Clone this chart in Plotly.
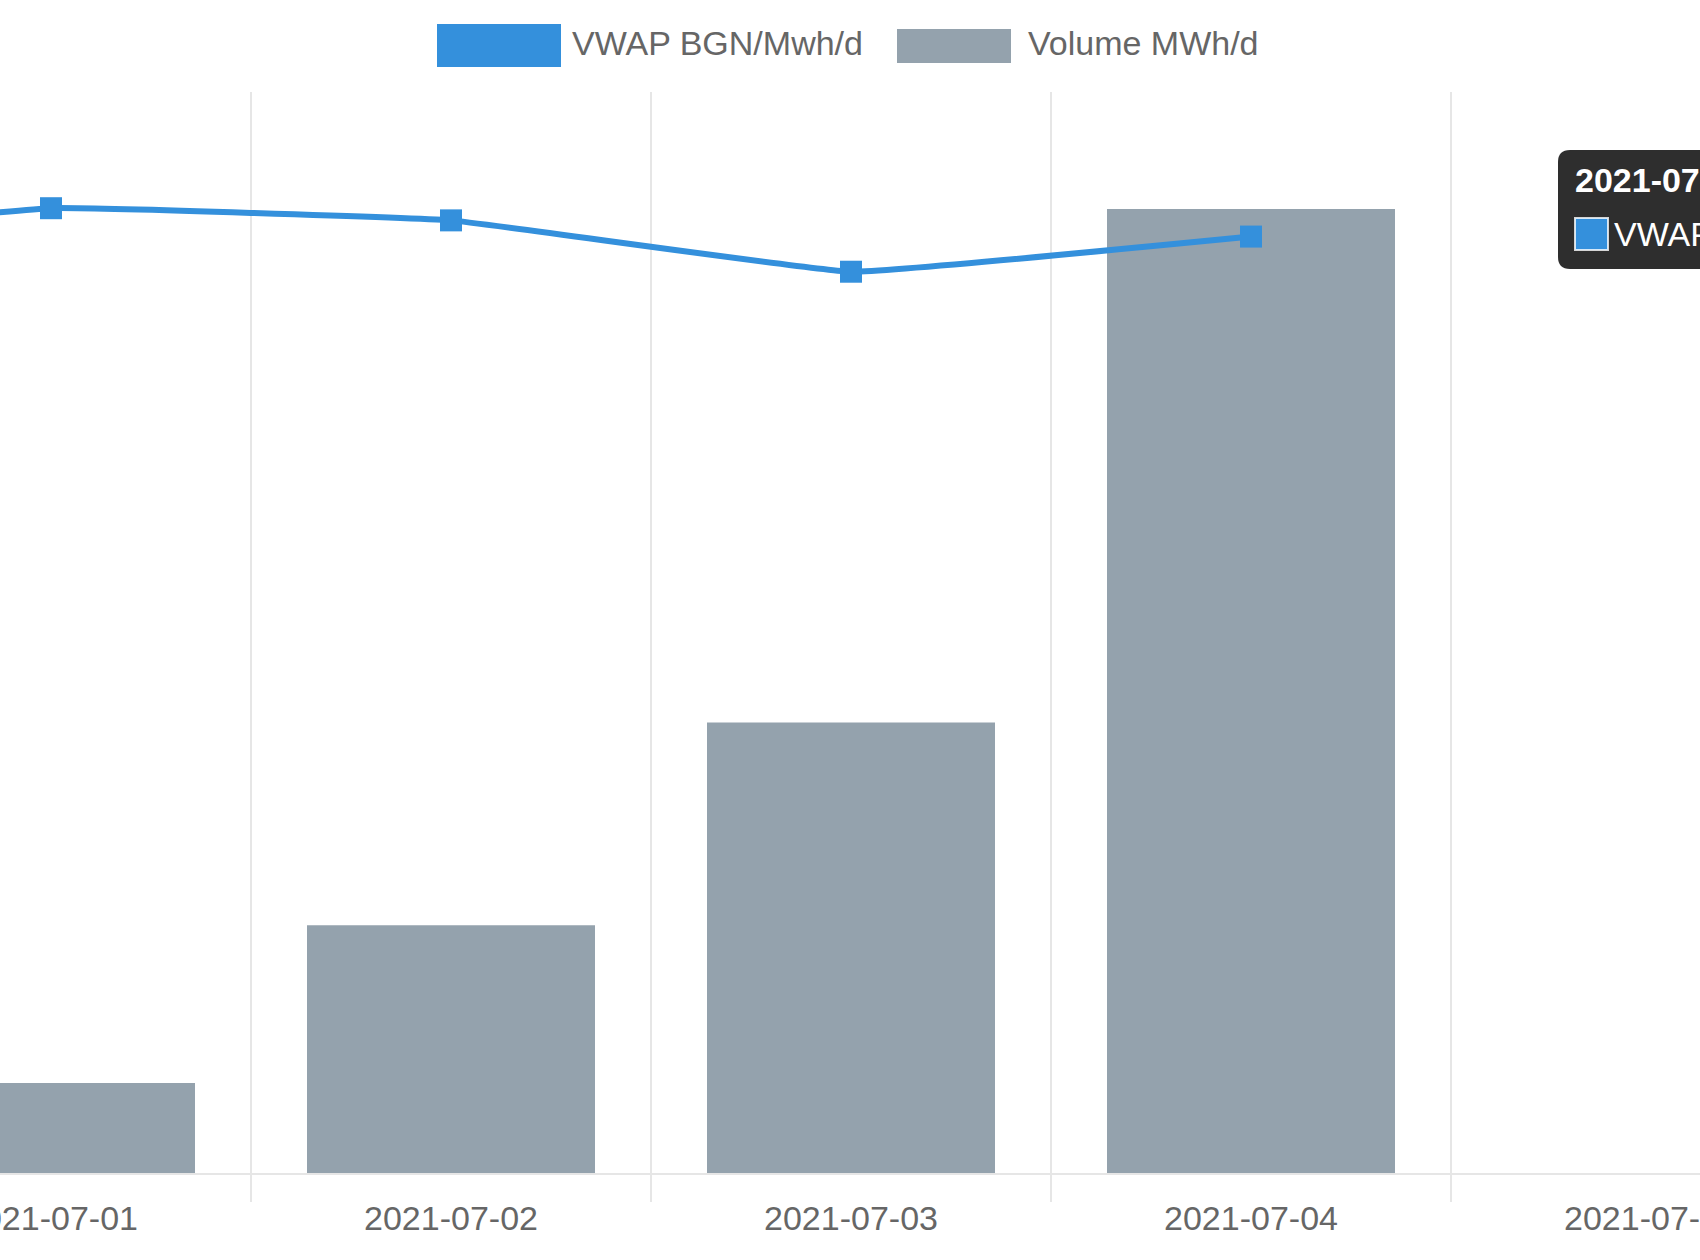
import plotly.graph_objects as go

# ---- data ----
dates = ["2021-06-30", "2021-07-01", "2021-07-02", "2021-07-03", "2021-07-04", "2021-07-05"]
vwap = [68.5, 71.4, 70.5, 66.7, 69.3, None]          # BGN/Mwh/d
volume = [None, 1000, 2750, 5000, 10700, None]       # MWh/d
vwap_name = "VWAP BGN/Mwh/d"
volume_name = "Volume MWh/d"
tooltip_title = "2021-07-05"

W, H = 1700, 1260
TOP, BOTTOM = 92, 1173
PH = BOTTOM - TOP

LINE_C = "#3490dc"
BAR_C = "#94a2ad"
GRID_C = "#e6e6e6"
TXT_C = "#666666"
FONT = "Liberation Sans, Arial, sans-serif"


def px(x):
    return x / W


def py(y):
    return (BOTTOM - y) / PH


fig = go.Figure()
fig.add_trace(go.Bar(x=dates, y=volume, name=volume_name, marker=dict(color=BAR_C, line=dict(width=0)),
                     width=0.72, yaxis="y", showlegend=False))
fig.add_trace(go.Scatter(x=dates, y=vwap, name=vwap_name, mode="lines+markers", yaxis="y2",
                         line=dict(color=LINE_C, width=6, shape="spline", smoothing=0.25),
                         marker=dict(symbol="square", size=22, color=LINE_C),
                         connectgaps=False, showlegend=False, cliponaxis=False))

shapes = []
annotations = []

# legend (drawn)
shapes.append(dict(type="rect", xref="paper", yref="paper", x0=px(437), x1=px(561), y0=py(67), y1=py(24),
                   fillcolor=LINE_C, line=dict(width=0), layer="above"))
annotations.append(dict(xref="paper", yref="paper", x=px(570), y=py(43), text=vwap_name, showarrow=False,
                        xanchor="left", yanchor="middle", font=dict(size=34, color=TXT_C, family=FONT)))
shapes.append(dict(type="rect", xref="paper", yref="paper", x0=px(897), x1=px(1011), y0=py(63), y1=py(29),
                   fillcolor=BAR_C, line=dict(width=0), layer="above"))
annotations.append(dict(xref="paper", yref="paper", x=px(1026), y=py(43), text=volume_name, showarrow=False,
                        xanchor="left", yanchor="middle", font=dict(size=34, color=TXT_C, family=FONT)))

# tooltip (drawn)
x0, x1, y0, y1, r = 1558, 1800, 150, 269, 12
path = (f"M {px(x0 + r)},{py(y0)} L {px(x1)},{py(y0)} L {px(x1)},{py(y1)} L {px(x0 + r)},{py(y1)} "
        f"Q {px(x0)},{py(y1)} {px(x0)},{py(y1 - r)} L {px(x0)},{py(y0 + r)} "
        f"Q {px(x0)},{py(y0)} {px(x0 + r)},{py(y0)} Z")
shapes.append(dict(type="path", xref="paper", yref="paper", path=path,
                   fillcolor="rgba(0,0,0,0.82)", line=dict(width=0), layer="above"))
annotations.append(dict(xref="paper", yref="paper", x=px(1573), y=py(180), text="<b>" + tooltip_title + "</b>",
                        showarrow=False, xanchor="left", yanchor="middle",
                        font=dict(size=34, color="white", family=FONT)))
shapes.append(dict(type="rect", xref="paper", yref="paper", x0=px(1575), x1=px(1608), y0=py(250), y1=py(218),
                   fillcolor=LINE_C, line=dict(width=2, color="rgba(255,255,255,0.8)"), layer="above"))
annotations.append(dict(xref="paper", yref="paper", x=px(1612), y=py(234), text=vwap_name + ": ",
                        showarrow=False, xanchor="left", yanchor="middle",
                        font=dict(size=34, color="white", family=FONT)))

fig.update_layout(
    width=W, height=H,
    margin=dict(l=0, r=0, t=TOP, b=H - BOTTOM, pad=0, autoexpand=False),
    paper_bgcolor="white", plot_bgcolor="white",
    showlegend=False,
    font=dict(family=FONT, color=TXT_C, size=34),
    xaxis=dict(type="category", range=[0.8725, 5.1225], tickson="boundaries", automargin=False,
               showgrid=True, gridcolor=GRID_C, gridwidth=2,
               showline=True, linecolor=GRID_C, linewidth=2,
               ticks="outside", ticklen=27, tickcolor=GRID_C, tickwidth=2, ticklabelstandoff=14,
               tickfont=dict(size=34, color=TXT_C, family=FONT), zeroline=False),
    yaxis=dict(range=[0, 12000], visible=False, showgrid=False, zeroline=False),
    yaxis2=dict(range=[0, 80], overlaying="y", visible=False, showgrid=False, zeroline=False),
    shapes=shapes, annotations=annotations,
)

fig.write_html("out.html", config={"displayModeBar": False},
               post_script="document.body.style.margin='0';document.body.style.overflow='hidden';")
